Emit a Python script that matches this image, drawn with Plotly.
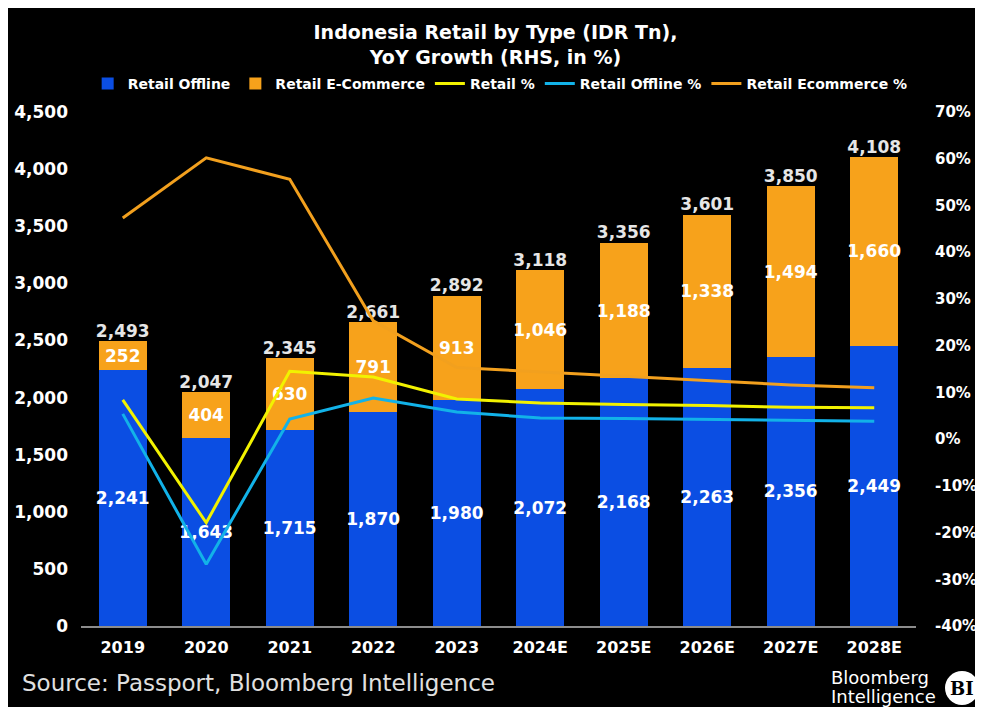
import plotly.graph_objects as go

years = ["2019", "2020", "2021", "2022", "2023", "2024E", "2025E", "2026E", "2027E", "2028E"]
retail_offline = [2241, 1643, 1715, 1870, 1980, 2072, 2168, 2263, 2356, 2449]
retail_ecom = [252, 404, 630, 791, 913, 1046, 1188, 1338, 1494, 1660]
retail_total = [2493, 2047, 2345, 2661, 2892, 3118, 3356, 3601, 3850, 4108]
retail_pct = [8.4, -17.9, 14.5, 13.3, 8.6, 7.7, 7.4, 7.2, 6.8, 6.7]
offline_pct = [5.4, -26.8, 4.3, 8.8, 5.8, 4.5, 4.4, 4.2, 4.0, 3.8]
ecom_pct = [47.3, 60.2, 55.6, 25.3, 15.3, 14.4, 13.5, 12.5, 11.6, 11.0]

left_ticks = list(range(0, 4501, 500))
right_ticks = list(range(-40, 71, 10))
right_labels = [f"{v}%" for v in right_ticks]

W, H = 975, 699
L, R, T, B = 73, 67, 104, 81
PW, PH = W - L - R, H - T - B

def px(x):
    return (x - L) / PW

def py(y):
    return (H - B - y) / PH

FONT = "DejaVu Sans"
BLUE = "#0B4EE3"
ORANGE = "#F7A21B"
YELLOW = "#F2F200"
CYAN = "#12B2E8"
ORANGE_LINE = "#F2A01E"

fig = go.Figure()
fig.add_trace(go.Bar(
    x=years, y=retail_offline, name="Retail Offline",
    marker=dict(color=BLUE, line=dict(width=0)),
    text=[f"{v:,}" for v in retail_offline], textposition="inside", textangle=0,
    insidetextanchor="middle", constraintext="none",
    textfont=dict(family=FONT, size=17, color="white", weight="bold"),
))
fig.add_trace(go.Bar(
    x=years, y=retail_ecom, name="Retail E-Commerce",
    marker=dict(color=ORANGE, line=dict(width=0)),
    text=[f"{v:,}" for v in retail_ecom], textposition="inside", textangle=0,
    insidetextanchor="middle", constraintext="none",
    textfont=dict(family=FONT, size=17, color="white", weight="bold"),
))
fig.add_trace(go.Scatter(
    x=years, y=retail_pct, name="Retail %", mode="lines", yaxis="y2",
    line=dict(color=YELLOW, width=3),
))
fig.add_trace(go.Scatter(
    x=years, y=offline_pct, name="Retail Offline %", mode="lines", yaxis="y2",
    line=dict(color=CYAN, width=3),
))
fig.add_trace(go.Scatter(
    x=years, y=ecom_pct, name="Retail Ecommerce %", mode="lines", yaxis="y2",
    line=dict(color=ORANGE_LINE, width=3),
))
fig.add_trace(go.Scatter(
    x=years, y=retail_total, mode="text", text=[f"{v:,}" for v in retail_total],
    textposition="top center", showlegend=False, hoverinfo="skip", cliponaxis=False,
    textfont=dict(family=FONT, size=17, color="#E6E6E6", weight="bold"),
))

fig.update_layout(
    width=W, height=H,
    margin=dict(l=L, r=R, t=T, b=B, autoexpand=False),
    paper_bgcolor="black", plot_bgcolor="black",
    barmode="stack", bargap=0.425,
    font=dict(family=FONT, color="white"),
    title=dict(
        text="Indonesia Retail by Type (IDR Tn),<br>YoY Growth (RHS, in %)",
        x=0.5, xanchor="center", y=1 - 31 / H, yanchor="middle", yref="container",
        font=dict(family=FONT, size=19, color="white", weight="bold"),
    ),
    legend=dict(
        orientation="h", x=0.502, xanchor="center", y=py(76), yanchor="middle",
        font=dict(family=FONT, size=14, color="white", weight="bold"),
        bgcolor="rgba(0,0,0,0)", traceorder="normal", itemwidth=30,
    ),
    xaxis=dict(
        showgrid=False, showline=True, linecolor="#8C8C8C", linewidth=1.5,
        ticks="", ticklabelstandoff=6, automargin=False,
        tickfont=dict(family=FONT, size=16, color="white", weight="bold"),
        zeroline=False,
    ),
    yaxis=dict(
        range=[0, 4500], tickvals=left_ticks, tickformat=",", showgrid=False,
        zeroline=False, ticks="", ticklabelstandoff=12, automargin=False,
        tickfont=dict(family=FONT, size=17, color="white", weight="bold"),
    ),
    yaxis2=dict(
        range=[-40, 70], tickvals=right_ticks, ticktext=right_labels, overlaying="y",
        side="right", showgrid=False, zeroline=False, ticks="", ticklabelstandoff=18,
        automargin=False,
        tickfont=dict(family=FONT, size=15, color="white", weight="bold"),
    ),
    annotations=[
        dict(text="Source: Passport, Bloomberg Intelligence", xref="paper", yref="paper",
             x=px(12), y=py(675), xanchor="left", yanchor="middle", showarrow=False,
             font=dict(family=FONT, size=23, color="#E0E0E0")),
        dict(text="Bloomberg", xref="paper", yref="paper",
             x=px(821), y=py(669), xanchor="left", yanchor="middle", align="left",
             showarrow=False, font=dict(family=FONT, size=18, color="white")),
        dict(text="Intelligence", xref="paper", yref="paper",
             x=px(821), y=py(688), xanchor="left", yanchor="middle", align="left",
             showarrow=False, font=dict(family=FONT, size=18, color="white")),
        dict(text="<b>BI</b>", xref="paper", yref="paper",
             x=px(954), y=py(680), xanchor="center", yanchor="middle", showarrow=False,
             font=dict(family="DejaVu Serif", size=18, color="black")),
    ],
    shapes=[
        dict(type="circle", xref="paper", yref="paper",
             x0=px(937), x1=px(971), y0=py(663), y1=py(697),
             fillcolor="white", line=dict(width=0)),
    ],
)

fig.write_html("out.html")
